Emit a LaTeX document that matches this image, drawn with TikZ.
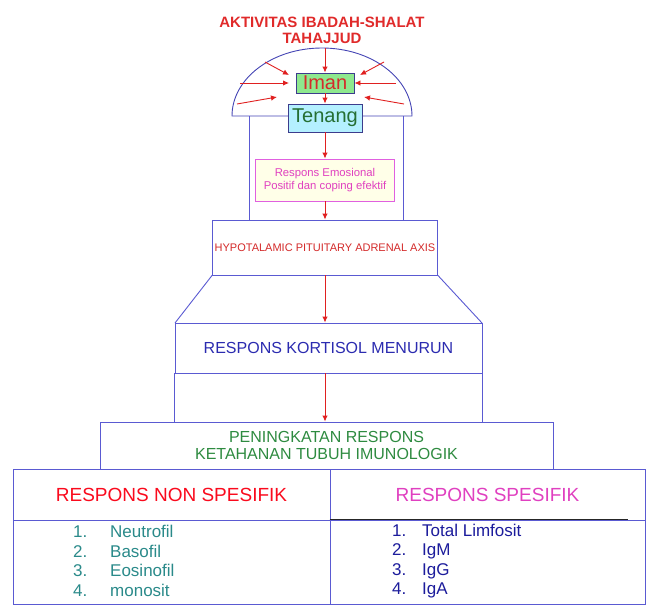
\documentclass[tikz,border=0pt]{standalone}
\usepackage{fontspec}
\setmainfont{Liberation Sans}
\usetikzlibrary{arrows.meta,positioning,calc}
\definecolor{lineblue}{HTML}{5A5AD2}
\definecolor{domeblue}{HTML}{4444B4}
\definecolor{arrowred}{HTML}{E02020}
\definecolor{titlered}{HTML}{E02A2A}
\definecolor{hpared}{HTML}{D42A2A}
\definecolor{navy}{HTML}{2B2BB0}
\definecolor{darknavy}{HTML}{1C1C9C}
\definecolor{green}{HTML}{2E8B40}
\definecolor{teal}{HTML}{2A8A8A}
\definecolor{magenta}{HTML}{E040C0}
\definecolor{pink}{HTML}{E060E0}
\definecolor{cream}{HTML}{FFFFE8}
\definecolor{imangreen}{HTML}{8EE88E}
\definecolor{tenangcyan}{HTML}{B4F0FF}
\definecolor{boxedge}{HTML}{3C3C8C}
\tikzset{
  title/.style={font=\bfseries\fontsize{15}{16}\selectfont,text=titlered,align=center},
  frame/.style={draw=lineblue,line width=0.9pt,fill=white,inner sep=0pt},
  core/.style={draw=boxedge,line width=0.9pt,inner sep=0pt,font=\fontsize{20}{22}\selectfont},
  caps/.style={font=\fontsize{16}{17}\selectfont,align=center},
  listtext/.style={font=\fontsize{17}{19.5}\selectfont,align=left,inner sep=0pt},
  arr/.style={-{Latex[length=6pt,width=5.5pt]},draw=arrowred,line width=0.9pt}
}
\begin{document}
\begin{tikzpicture}[x=1pt,y=-1pt]
\path[use as bounding box] (0,0) rectangle (646,608);
\node[title] (head) at (322,30) {AKTIVITAS IBADAH-SHALAT\\TAHAJJUD};

% dome and pillar
\draw[domeblue,line width=0.9pt] (232,116) arc[start angle=180,end angle=0,x radius=90pt,y radius=68pt] -- cycle;
\draw[lineblue,line width=0.9pt] (249,116) -- (249,220) (403,116) -- (403,220);

\node[core,fill=imangreen,text=hpared,minimum width=58pt,minimum height=20pt] (iman) at (325,83) {Iman};
\node[core,fill=tenangcyan,text=green!80!black,minimum width=74pt,minimum height=28pt] (tenang) at (325,118) {Tenang};
\node[frame,draw=pink,fill=cream,text=magenta,minimum width=139pt,minimum height=42pt,align=center,font=\fontsize{11.3}{13.5}\selectfont] (emo) at (325,180) {Respons Emosional\\Positif dan coping efektif};

\coordinate (dtop) at (325,48);
\coordinate (ula) at (265,62); \coordinate (ulb) at (289,75);
\coordinate (ura) at (384,62); \coordinate (urb) at (360,75);
\coordinate (la) at (240,83);  \coordinate (lb) at (289,83);
\coordinate (ra) at (396,83);
\coordinate (lla) at (237,104); \coordinate (llb) at (277,97);
\coordinate (lra) at (404,104); \coordinate (lrb) at (364,97);
\draw[arr] (dtop) -- (iman.north);
\draw[arr] (ula) -- (ulb); \draw[arr] (ura) -- (urb);
\draw[arr] (la) -- (lb); \draw[arr] (ra) -- (iman.east);
\draw[arr] (lla) -- (llb); \draw[arr] (lra) -- (lrb);
\draw[arr] (iman) -- (tenang);
\draw[arr] (tenang) -- (emo);

\node[frame,text=hpared,minimum width=225pt,minimum height=55pt,font=\fontsize{11}{12}\selectfont] (hpa) at (325,247.5) {HYPOTALAMIC PITUITARY ADRENAL AXIS};
\draw[arr] (emo) -- (hpa);

% trapezoid and lower pillar
\draw[lineblue,line width=0.9pt] (hpa.south west) -- (175,323) (hpa.south east) -- (482,323);
\node[frame,caps,text=navy,minimum width=307pt,minimum height=50pt] (kort) at (328.5,348) {RESPONS KORTISOL MENURUN};
\draw[lineblue,line width=0.9pt] (kort.south west) -- ++(0,49) (kort.south east) -- ++(0,49);
\draw[arr] (hpa.south) -- (hpa.south |- kort.north);

\node[frame,caps,text=green,minimum width=453pt,minimum height=47pt] (pening) at (326.5,445.5) {PENINGKATAN RESPONS\\KETAHANAN TUBUH IMUNOLOGIK};
\draw[arr] (hpa.south |- kort.south) -- (hpa.south |- pening.north);

% table
\node[frame,minimum width=317pt,minimum height=51pt,text=red!85!magenta,font=\fontsize{19}{20}\selectfont] (nonspec) at (171.5,494.5) {RESPONS NON SPESIFIK};
\node[frame,minimum width=315pt,minimum height=51pt,text=magenta,font=\fontsize{19}{20}\selectfont] (spec) at (487.5,494.5) {RESPONS SPESIFIK};
\node[frame,minimum width=317pt,minimum height=84pt] (nonlist) at (171.5,562) {};
\node[frame,minimum width=315pt,minimum height=84pt] (speclist) at (487.5,562) {};
\draw[black!85,line width=1.1pt] (speclist.north west) -- ++(298,0);
\node[listtext,text=teal,anchor=west] (cells) at (73,561) {\makebox[37pt][l]{1.}Neutrofil\\\makebox[37pt][l]{2.}Basofil\\\makebox[37pt][l]{3.}Eosinofil\\\makebox[37pt][l]{4.}monosit};
\node[listtext,text=darknavy,anchor=west] (immuno) at (392,561) {\makebox[30pt][l]{1.}Total Limfosit\\\makebox[30pt][l]{2.}IgM\\\makebox[30pt][l]{3.}IgG\\\makebox[30pt][l]{4.}IgA};
\end{tikzpicture}
\end{document}
